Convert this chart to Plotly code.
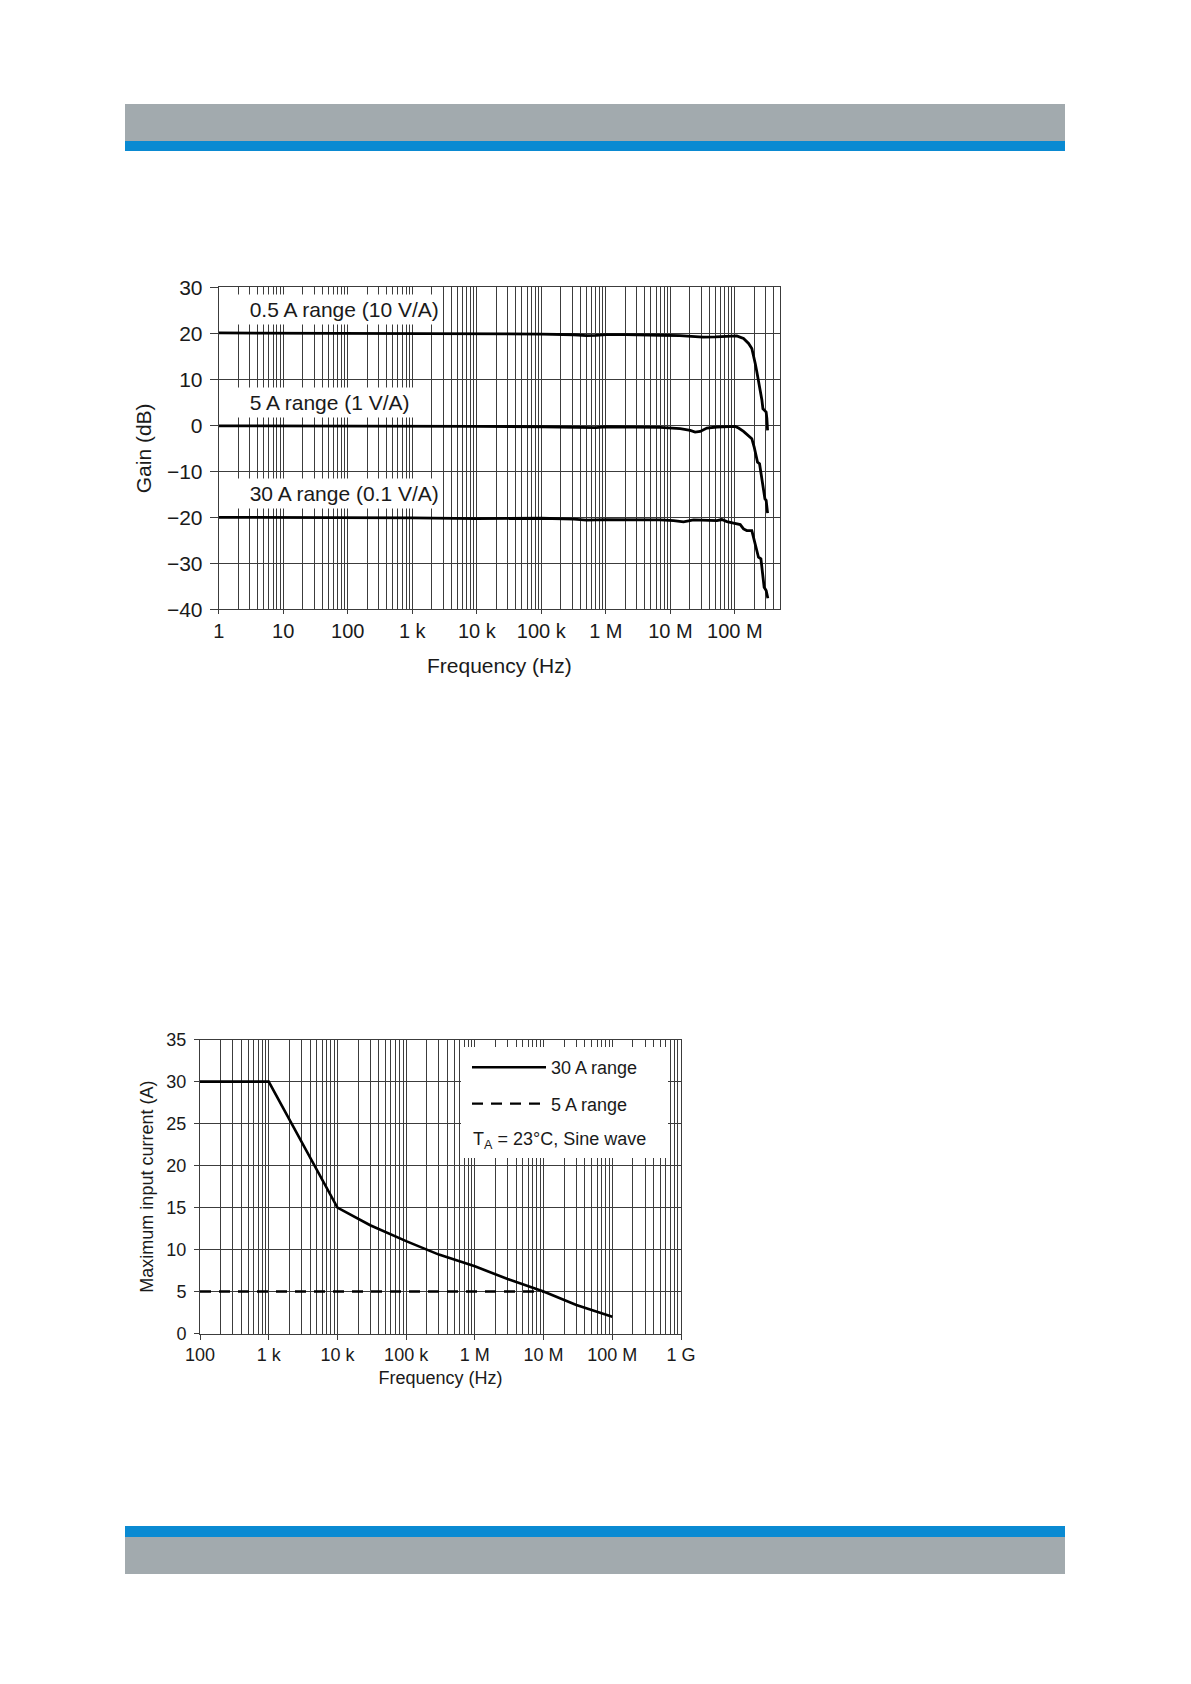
import math
import plotly.graph_objects as go

# ---------------- data: top chart (gain vs frequency) ----------------
freq_05A = [1, 10, 100, 1e3, 1e4, 1e5, 3.2e5, 5e5, 7e5, 1e6, 2e6, 3.4e6, 7e6, 1.4e7, 2e7,
            3.2e7, 5e7, 8e7, 1.07e8, 1.36e8, 1.63e8, 1.83e8, 1.95e8, 2.07e8, 2.19e8,
            2.32e8, 2.47e8, 2.62e8, 2.72e8, 2.84e8, 3.05e8, 3.13e8, 3.21e8]
gain_05A = [20.1, 20.05, 20.0, 20.0, 19.95, 19.85, 19.7, 19.5, 19.55, 19.75, 19.75, 19.75,
            19.6, 19.5, 19.3, 19.2, 19.25, 19.4, 19.46, 18.9, 17.8, 16.7, 15.3, 13.4, 11.6,
            9.8, 7.6, 5.5, 3.6, 3.3, 2.9, 1.5, -1.1]

freq_5A = [1, 10, 100, 1e3, 1e4, 1e5, 3.2e5, 5e5, 7e5, 1e6, 2e6, 3.41e6, 6.95e6, 1.42e7,
           2.03e7, 2.42e7, 2.9e7, 3.68e7, 5.26e7, 1.01e8, 1.14e8, 1.36e8, 1.63e8, 1.83e8,
           1.99e8, 2.14e8, 2.24e8, 2.41e8, 2.53e8, 2.72e8, 2.92e8, 3.05e8, 3.21e8]
gain_5A = [-0.1, -0.1, -0.15, -0.2, -0.2, -0.3, -0.5, -0.6, -0.5, -0.3, -0.35, -0.36, -0.43,
           -0.73, -1.09, -1.45, -1.31, -0.58, -0.36, -0.22, -0.58, -1.31, -2.18, -2.9, -4.72,
           -6.9, -8.0, -8.35, -10.5, -13.4, -16.0, -16.3, -19.1]

freq_30A = [1, 10, 100, 1e3, 1e4, 3.2e4, 1e5, 3.2e5, 5e5, 1e6, 2e6, 3.41e6, 6.95e6, 1.12e7,
            1.6e7, 2.29e7, 3.68e7, 5.26e7, 6.28e7, 7.52e7, 9.53e7, 1.21e8, 1.36e8, 1.53e8,
            1.83e8, 2.07e8, 2.32e8, 2.53e8, 2.68e8, 2.84e8, 3.05e8, 3.24e8]
gain_30A = [-20.0, -20.0, -20.05, -20.1, -20.3, -20.25, -20.2, -20.4, -20.6, -20.5, -20.5,
            -20.48, -20.55, -20.7, -20.99, -20.55, -20.7, -20.7, -20.48, -20.92, -21.28,
            -21.57, -22.51, -22.88, -22.88, -26.14, -28.68, -29.04, -33.0, -35.2, -35.9, -37.6]

top_labels = ["0.5 A range (10 V/A)", "5 A range (1 V/A)", "30 A range (0.1 V/A)"]
top_label_y = [25.2, 5.0, -14.8]

top_tickvals = [1, 10, 100, 1e3, 1e4, 1e5, 1e6, 1e7, 1e8]
top_ticktext = ["1", "10", "100", "1 k", "10 k", "100 k", "1 M", "10 M", "100 M"]

# ---------------- data: bottom chart (max input current) ----------------
freq_max30 = [100, 1e3, 1e4, 3e4, 1e5, 3e5, 1e6, 3e6, 1e7, 3e7, 1e8]
curr_max30 = [30, 30, 15, 12.9, 11, 9.4, 8, 6.5, 5, 3.4, 2]
freq_max5 = [100, 1e7]
curr_max5 = [5, 5]

bot_tickvals = [100, 1e3, 1e4, 1e5, 1e6, 1e7, 1e8, 1e9]
bot_ticktext = ["100", "1 k", "10 k", "100 k", "1 M", "10 M", "100 M", "1 G"]

# ---------------- styling ----------------
PAGE_W, PAGE_H = 1191, 1684
OFF = 8                      # default body margin of the html page
W, H = PAGE_W - 2 * OFF, PAGE_H - 2 * OFF
FONT = "Liberation Sans, Arial, Helvetica, sans-serif"
TXT = "#1a1a1a"
GRID = "#3c3c3c"
GRAY_BAR = "#a2aaae"
BLUE_BAR = "#0a8ad2"


def px_x(x):
    return (x - OFF) / W


def px_y(y):
    return 1 - (y - OFF) / H


def minor_vals(lo_exp, hi_exp):
    return [m * 10 ** e for e in range(lo_exp, hi_exp) for m in range(2, 10)]


fig = go.Figure()

for f, g in [(freq_05A, gain_05A), (freq_5A, gain_5A), (freq_30A, gain_30A)]:
    fig.add_trace(go.Scatter(x=f, y=g, mode="lines", xaxis="x", yaxis="y",
                             line=dict(color="black", width=2.8), showlegend=False,
                             hoverinfo="skip"))

fig.add_trace(go.Scatter(x=freq_max30, y=curr_max30, mode="lines", xaxis="x2", yaxis="y2",
                         name="30 A range", legendgroup="a",
                         line=dict(color="black", width=2.6)))
fig.add_trace(go.Scatter(x=freq_max5, y=curr_max5, mode="lines", xaxis="x2", yaxis="y2",
                         name="5 A range", legendgroup="b",
                         line=dict(color="black", width=2.4, dash="11px,8px")))

axis_common = dict(showgrid=True, gridcolor=GRID, gridwidth=1, showline=True, mirror=True,
                   linecolor=GRID, linewidth=1, ticks="outside", tickcolor=GRID,
                   zeroline=False, color=TXT, automargin=False)

fig.update_layout(
    width=W, height=H,
    margin=dict(l=0, r=0, t=0, b=0, autoexpand=False),
    paper_bgcolor="white", plot_bgcolor="white",
    font=dict(family=FONT, color=TXT),
    xaxis=dict(type="log", range=[0, math.log10(5e8)], domain=[px_x(218.7), px_x(780)],
               anchor="y", tickvals=top_tickvals, ticktext=top_ticktext, ticklen=4,
               tickfont=dict(size=20),
               minor=dict(tickvals=minor_vals(0, 9), showgrid=True, gridcolor=GRID,
                          gridwidth=1, ticks=""),
               title=dict(text="Frequency (Hz)", font=dict(size=21), standoff=17),
               **axis_common),
    yaxis=dict(range=[-40, 30], dtick=10, domain=[px_y(609.3), px_y(287.4)], anchor="x",
               ticklen=8, tickfont=dict(size=21), ticklabelstandoff=3,
               title=dict(text="Gain (dB)", font=dict(size=21), standoff=9),
               **axis_common),
    xaxis2=dict(type="log", range=[2, 9], domain=[px_x(200), px_x(681)], anchor="y2",
                tickvals=bot_tickvals, ticktext=bot_ticktext, ticklen=5,
                tickfont=dict(size=18),
                minor=dict(tickvals=minor_vals(2, 9), showgrid=True, gridcolor=GRID,
                           gridwidth=1, ticks=""),
                title=dict(text="Frequency (Hz)", font=dict(size=18), standoff=7),
                **axis_common),
    yaxis2=dict(range=[0, 35], dtick=5, domain=[px_y(1333.5), px_y(1039.7)], anchor="x2",
                ticklen=5, tickfont=dict(size=18), ticklabelstandoff=4,
                title=dict(text="Maximum input current (A)", font=dict(size=18), standoff=8),
                **axis_common),
    legend=dict(x=px_x(467), y=px_y(1049), xanchor="left", yanchor="top",
                bgcolor="rgba(0,0,0,0)", borderwidth=0, font=dict(size=18),
                itemwidth=74, tracegroupgap=10, traceorder="grouped"),
    showlegend=True,
)

shapes = [
    dict(type="rect", xref="paper", yref="paper", x0=px_x(125), x1=px_x(1065),
         y0=px_y(141), y1=px_y(104), fillcolor=GRAY_BAR, line=dict(width=0)),
    dict(type="rect", xref="paper", yref="paper", x0=px_x(125), x1=px_x(1065),
         y0=px_y(151), y1=px_y(141), fillcolor=BLUE_BAR, line=dict(width=0)),
    dict(type="rect", xref="paper", yref="paper", x0=px_x(125), x1=px_x(1065),
         y0=px_y(1537), y1=px_y(1526), fillcolor=BLUE_BAR, line=dict(width=0)),
    dict(type="rect", xref="paper", yref="paper", x0=px_x(125), x1=px_x(1065),
         y0=px_y(1574), y1=px_y(1537), fillcolor=GRAY_BAR, line=dict(width=0)),
    # white legend panel of the lower chart (no curve passes through this region)
    dict(type="rect", xref="paper", yref="paper", x0=px_x(461), x1=px_x(668),
         y0=px_y(1158), y1=px_y(1047), fillcolor="white", line=dict(width=0),
         layer="above"),
]
fig.update_layout(shapes=shapes)

annotations = []
for lab, yv in zip(top_labels, top_label_y):
    annotations.append(dict(text="\u00a0\u00a0" + lab, xref="x domain", yref="y",
                            x=(234 - 218.7) / (780 - 218.7), y=yv, xanchor="left",
                            yanchor="middle", showarrow=False, bgcolor="white",
                            borderpad=3, font=dict(size=21, color=TXT)))
annotations.append(dict(text="T<sub>A</sub> = 23°C, Sine wave", xref="paper", yref="paper",
                        x=px_x(471), y=px_y(1140), xanchor="left", yanchor="middle",
                        showarrow=False, font=dict(size=18, color=TXT)))
fig.update_layout(annotations=annotations)

fig.write_html("out.html", config={"displayModeBar": False})
